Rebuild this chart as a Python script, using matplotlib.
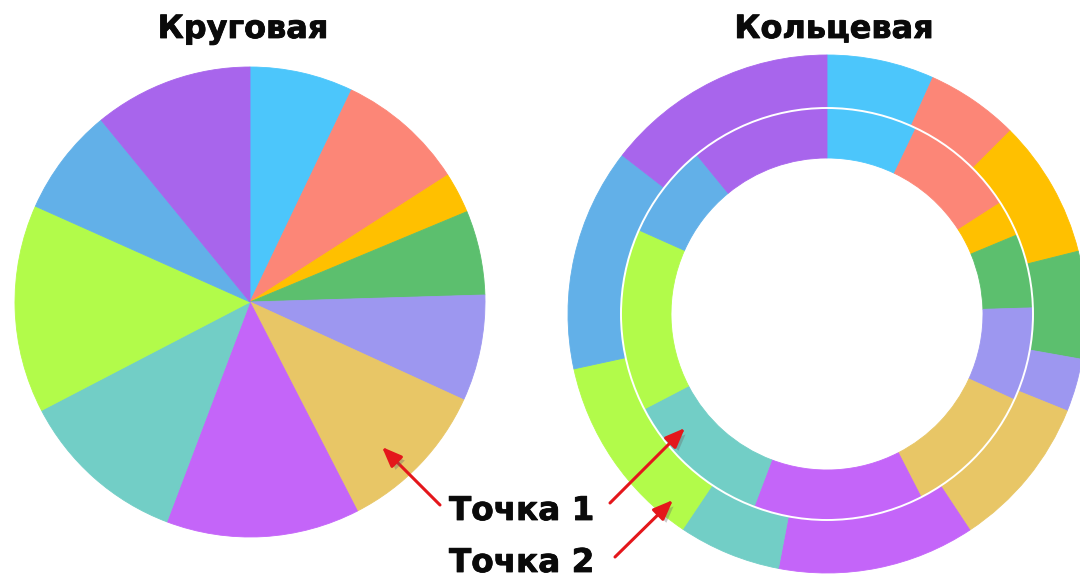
import matplotlib
matplotlib.use("Agg")
import matplotlib.pyplot as plt
import matplotlib.patheffects as pe

W, H = 1080, 580

# slice shares, clockwise from 12 o'clock
pie_values = [7.1, 8.8, 2.8, 5.8, 7.3, 10.6, 13.3, 11.6, 14.3, 7.4, 10.9]
outer_values = [6.7, 5.8, 8.6, 6.7, 3.3, 9.6, 12.3, 6.4, 12.2, 13.9, 14.5]
colors = ['#4CC6FB', '#FC8677', '#FFC000', '#5CBF6E', '#9D97F0', '#E8C666',
          '#C465F9', '#72CEC6', '#B2FB4A', '#62B0E8', '#A865EC']

titles = ['Круговая', 'Кольцевая']
point_labels = ['Точка 1', 'Точка 2']

fig = plt.figure(figsize=(W / 100, H / 100), dpi=100)
ax = fig.add_axes([0, 0, 1, 1])


def Y(y):
    # image rows -> data y
    return H - y


def seal(wedges):
    # paint the edges in the slice colour so no seams show between slices
    for w in wedges:
        w.set_edgecolor(w.get_facecolor())
        w.set_linewidth(0.6)


# plain pie
wedges, _ = ax.pie(pie_values, colors=colors, startangle=90, counterclock=False,
                   center=(250, Y(302)), radius=235)
seal(wedges)

# two-ring doughnut
dc = (827, Y(314))
wedges, _ = ax.pie(outer_values, colors=colors, startangle=90, counterclock=False,
                   center=dc, radius=259, wedgeprops=dict(width=53))
seal(wedges)
wedges, _ = ax.pie(pie_values, colors=colors, startangle=90, counterclock=False,
                   center=dc, radius=206, wedgeprops=dict(width=50))
seal(wedges)
ax.add_patch(plt.Circle(dc, 206, fill=False, edgecolor='white', lw=1.4,
                        zorder=5))

ax.set_xlim(0, W)
ax.set_ylim(0, H)
ax.set_aspect('equal')
ax.set_axis_off()

heavy = [pe.withStroke(linewidth=0.6, foreground='#0a0a0a')]
tfont = dict(fontsize=23, fontweight='bold', color='#0a0a0a',
             family='DejaVu Sans', va='baseline', ha='center',
             path_effects=heavy)
ax.text(243, Y(38), titles[0], **tfont)
ax.text(834, Y(38), titles[1], **tfont)

lfont = dict(fontsize=23.5, fontweight='bold', color='#0a0a0a',
             family='DejaVu Sans', va='baseline', ha='left',
             path_effects=heavy)
ax.text(449, Y(520), point_labels[0], **lfont)
ax.text(449, Y(572), point_labels[1], **lfont)

arrows = [((440, 505), (382, 447)),
          ((610, 503), (685, 428)),
          ((615, 557), (673, 500))]
for (x0, y0), (x1, y1) in arrows:
    ax.annotate('', xy=(x1, Y(y1)), xytext=(x0, Y(y0)), zorder=6,
                arrowprops=dict(arrowstyle='-|>,head_length=0.6,head_width=0.24',
                                color='#E4161B', lw=2.2, mutation_scale=20,
                                shrinkA=0, shrinkB=0,
                                path_effects=[pe.withSimplePatchShadow(
                                    offset=(2.5, -2.5), shadow_rgbFace='#666666',
                                    alpha=0.35)]))

fig.savefig('out.png', dpi=100)
